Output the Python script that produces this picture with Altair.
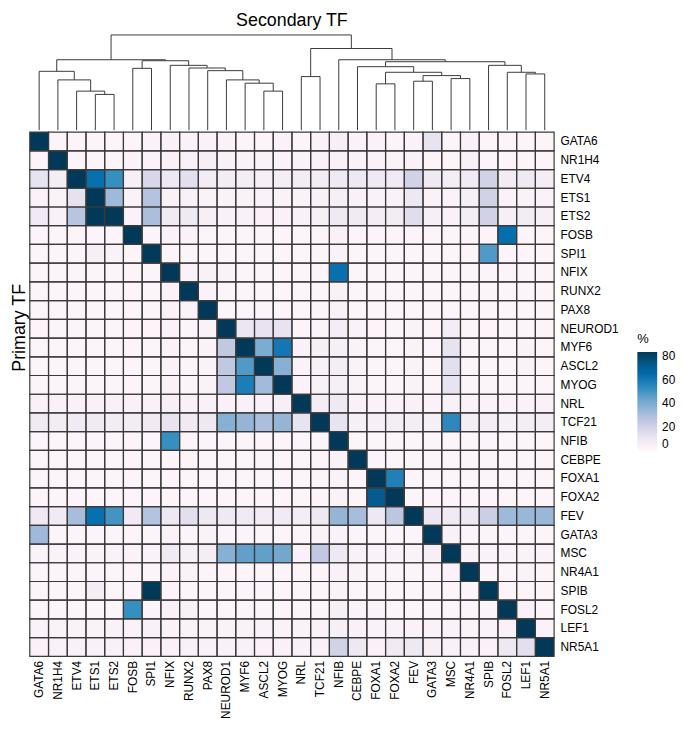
import altair as alt
import pandas as pd

# ---------------- data ----------------
tfs = ["GATA6", "NR1H4", "ETV4", "ETS1", "ETS2", "FOSB", "SPI1", "NFIX", "RUNX2", "PAX8",
       "NEUROD1", "MYF6", "ASCL2", "MYOG", "NRL", "TCF21", "NFIB", "CEBPE", "FOXA1", "FOXA2",
       "FEV", "GATA3", "MSC", "NR4A1", "SPIB", "FOSL2", "LEF1", "NR5A1"]

# percentage matrix: rows = primary TF, columns = secondary TF (same order as tfs)
pct = [
    [83, 2, 2, 2, 2, 2, 3, 4, 3, 3, 3, 2, 2, 3, 2, 3, 5, 3, 3, 2, 3, 12, 2, 3, 2, 2, 2, 2],
    [2, 83, 2, 2, 2, 3, 3, 4, 4, 5, 4, 3, 3, 3, 3, 3, 4, 3, 3, 3, 4, 2, 2, 4, 2, 2, 2, 2],
    [12, 6, 83, 62, 52, 5, 18, 10, 14, 7, 7, 6, 5, 6, 7, 7, 9, 10, 9, 8, 20, 9, 6, 8, 20, 7, 9, 6],
    [3, 3, 13, 83, 33, 3, 28, 4, 4, 3, 3, 3, 3, 3, 3, 4, 5, 4, 3, 3, 10, 3, 3, 5, 20, 3, 3, 3],
    [8, 4, 27, 83, 83, 3, 30, 8, 9, 5, 4, 4, 4, 4, 4, 5, 9, 8, 6, 7, 15, 5, 4, 6, 20, 5, 7, 5],
    [2, 2, 2, 2, 2, 83, 2, 3, 3, 2, 2, 2, 2, 2, 2, 2, 4, 2, 2, 2, 2, 2, 2, 2, 2, 63, 2, 2],
    [2, 2, 2, 5, 3, 2, 83, 2, 2, 2, 2, 2, 2, 2, 2, 2, 3, 2, 2, 2, 2, 2, 2, 2, 48, 2, 2, 2],
    [2, 2, 2, 2, 2, 2, 2, 83, 3, 4, 3, 2, 2, 2, 2, 2, 62, 2, 2, 2, 2, 2, 2, 2, 2, 2, 2, 2],
    [2, 2, 2, 2, 2, 2, 2, 3, 83, 3, 2, 2, 2, 2, 2, 2, 4, 2, 2, 2, 2, 2, 2, 2, 2, 2, 2, 2],
    [2, 2, 2, 2, 2, 2, 2, 3, 3, 83, 2, 2, 2, 2, 2, 2, 4, 2, 2, 2, 2, 2, 2, 2, 2, 2, 2, 2],
    [2, 2, 2, 2, 2, 2, 2, 3, 2, 3, 83, 11, 12, 12, 2, 2, 6, 3, 2, 2, 3, 2, 6, 2, 2, 2, 2, 2],
    [2, 2, 2, 2, 2, 2, 2, 3, 2, 3, 25, 83, 40, 60, 4, 5, 5, 3, 2, 2, 3, 2, 12, 2, 2, 2, 3, 2],
    [2, 2, 2, 2, 2, 2, 2, 3, 2, 3, 25, 48, 83, 38, 3, 4, 6, 3, 2, 2, 3, 2, 14, 2, 2, 2, 3, 2],
    [2, 2, 2, 2, 2, 2, 2, 3, 2, 3, 25, 58, 32, 83, 3, 4, 5, 3, 2, 2, 3, 2, 12, 2, 2, 2, 2, 2],
    [4, 4, 4, 4, 4, 4, 4, 5, 4, 4, 4, 4, 4, 5, 83, 6, 9, 4, 3, 3, 4, 3, 4, 3, 3, 3, 3, 4],
    [8, 7, 8, 8, 7, 7, 8, 12, 8, 10, 38, 35, 30, 35, 12, 83, 12, 5, 5, 6, 6, 5, 54, 6, 6, 5, 6, 6],
    [2, 2, 2, 2, 2, 2, 2, 52, 2, 2, 2, 2, 2, 2, 2, 2, 83, 2, 2, 2, 2, 2, 2, 2, 2, 2, 2, 2],
    [2, 2, 2, 2, 2, 2, 2, 2, 2, 2, 2, 2, 2, 2, 2, 2, 3, 83, 2, 2, 2, 2, 2, 2, 2, 2, 2, 2],
    [2, 2, 2, 2, 2, 2, 2, 2, 2, 2, 2, 2, 2, 2, 2, 2, 3, 2, 83, 57, 2, 2, 2, 2, 2, 2, 2, 2],
    [2, 2, 2, 2, 2, 2, 2, 2, 2, 2, 2, 2, 2, 2, 2, 2, 3, 2, 72, 83, 2, 2, 2, 2, 2, 2, 2, 2],
    [9, 8, 31, 62, 50, 8, 28, 10, 14, 10, 9, 8, 7, 8, 6, 10, 35, 31, 10, 26, 83, 11, 8, 10, 22, 33, 34, 34],
    [33, 2, 2, 2, 2, 2, 2, 3, 2, 3, 2, 2, 2, 2, 2, 3, 3, 2, 2, 2, 2, 83, 4, 2, 2, 2, 2, 2],
    [3, 3, 3, 3, 3, 3, 3, 8, 5, 6, 38, 45, 45, 42, 4, 25, 10, 4, 3, 3, 3, 5, 83, 4, 3, 3, 3, 3],
    [2, 2, 2, 2, 2, 2, 2, 3, 3, 2, 2, 2, 2, 2, 2, 2, 4, 3, 2, 2, 2, 2, 3, 83, 2, 2, 3, 2],
    [2, 2, 2, 6, 2, 2, 83, 2, 2, 2, 2, 2, 2, 2, 2, 2, 3, 2, 2, 2, 2, 2, 2, 2, 83, 2, 2, 2],
    [2, 2, 2, 2, 2, 52, 2, 4, 4, 2, 2, 2, 2, 2, 2, 2, 5, 3, 3, 2, 2, 2, 2, 2, 2, 83, 4, 2],
    [3, 3, 3, 3, 3, 3, 4, 3, 3, 3, 3, 3, 3, 3, 3, 3, 5, 4, 3, 3, 3, 3, 3, 3, 3, 4, 83, 3],
    [4, 4, 4, 4, 4, 4, 4, 4, 4, 4, 4, 4, 4, 4, 4, 4, 20, 10, 4, 8, 10, 5, 4, 4, 4, 10, 14, 83],
]

# column dendrogram (linkage): node ids 0..27 are leaves, 28.. are merges in this order
merge_left = [3, 2, 1, 0, 5, 12, 11, 10, 9, 8, 7, 32, 31,
              14, 18, 20, 22, 43, 42, 17, 26, 25, 24, 47, 16, 41, 40]
merge_right = [4, 28, 29, 30, 6, 13, 33, 34, 35, 36, 37, 38, 39,
               15, 19, 21, 23, 44, 45, 46, 27, 48, 49, 50, 51, 52, 53]
merge_height = [108, 118, 152, 178, 187, 118, 142, 152, 180, 188, 196, 210, 213,
                162, 140, 148, 156, 165, 175, 192, 170, 175, 196, 207, 213, 247, 288]

PUBU = ["#fff7fb", "#ece7f2", "#d0d1e6", "#a6bddb", "#74a9cf",
        "#3690c0", "#0570b0", "#045a8d", "#023858"]

# ---------------- tables ----------------
assert all(len(r) == len(tfs) for r in pct) and len(pct) == len(tfs)
heat = pd.DataFrame([
    {"primary": tfs[i], "secondary": tfs[j], "pct": pct[i][j]}
    for i in range(len(tfs)) for j in range(len(tfs))
])

n_leaf = len(tfs)
node_x = {i: i + 0.5 for i in range(n_leaf)}
node_h = {i: 0.0 for i in range(n_leaf)}
segs = []
for k, (a, b, h) in enumerate(zip(merge_left, merge_right, merge_height)):
    nid = n_leaf + k
    xa, xb = node_x[a], node_x[b]
    segs.append({"x": xa, "x2": xb, "y": h, "y2": h})
    segs.append({"x": xa, "x2": xa, "y": node_h[a], "y2": h})
    segs.append({"x": xb, "x2": xb, "y": node_h[b], "y2": h})
    node_x[nid] = (xa + xb) / 2
    node_h[nid] = h
dendro_df = pd.DataFrame(segs)

FONT = "Liberation Sans"
SIDE = 529
LINE = "#3a3a3a"

fill = alt.Chart(heat).mark_rect(strokeWidth=0).encode(
    x=alt.X("secondary:N", sort=tfs,
            axis=alt.Axis(orient="bottom", title=None, labelAngle=270, ticks=False,
                          domain=False, labelPadding=4, labelAlign="right",
                          labelBaseline="middle")),
    y=alt.Y("primary:N", sort=tfs,
            axis=alt.Axis(orient="right", title=None, ticks=False, domain=False,
                          labelPadding=6)),
    color=alt.Color("pct:Q",
                    scale=alt.Scale(domain=[0, 83], range=PUBU),
                    legend=alt.Legend(title="%", orient="none", legendX=613, legendY=203,
                                      direction="vertical", gradientLength=100,
                                      gradientThickness=20, values=[0, 20, 40, 60, 80],
                                      titleFontSize=13, titleFontWeight="normal",
                                      titlePadding=6, labelFontSize=12, labelOffset=5)),
)

grid = alt.Chart(heat).mark_rect(fillOpacity=0, stroke=LINE, strokeWidth=1.2).encode(
    x=alt.X("secondary:N", sort=tfs, axis=None),
    y=alt.Y("primary:N", sort=tfs,
            axis=alt.Axis(orient="left", title="Primary TF", labels=False, ticks=False,
                          domain=False, titleFontSize=18, titleFontWeight="normal",
                          titlePadding=1, titleY=197, titleColor="black")),
)

dendro = alt.Chart(dendro_df).mark_rule(color=LINE, strokeWidth=1).encode(
    x=alt.X("x:Q", scale=alt.Scale(domain=[0, n_leaf], nice=False, zero=False), axis=None),
    x2="x2:Q",
    y=alt.Y("y:Q", scale=alt.Scale(domain=[0, 288], range=[-2, -98], nice=False), axis=None),
    y2="y2:Q",
)

chart = alt.layer(fill, grid, dendro).resolve_scale(
    x="independent", y="independent"
).properties(
    width=SIDE, height=SIDE,
    padding={"left": 3, "top": 0, "right": 0, "bottom": 0},
    title=alt.TitleParams("Secondary TF", fontSize=18, fontWeight="normal", font=FONT,
                          anchor="middle", frame="group", offset=5, color="black"),
).configure_view(stroke=None).configure_axis(
    labelFont=FONT, labelFontSize=12, labelColor="black", titleFont=FONT
).configure_legend(
    labelFont=FONT, titleFont=FONT, labelColor="black", titleColor="black"
)

chart.save("out.html", embed_options={"renderer": "svg", "actions": False})
